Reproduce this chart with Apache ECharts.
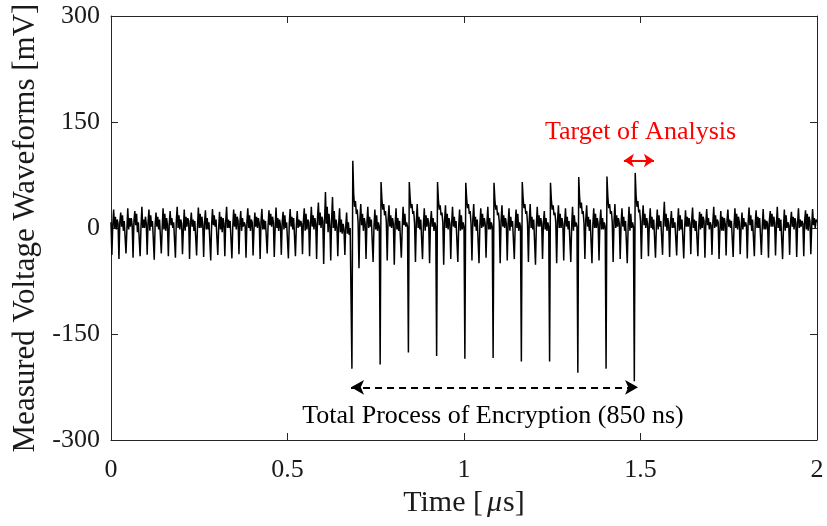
<!DOCTYPE html>
<html>
<head>
<meta charset="utf-8">
<script src="https://cdn.jsdelivr.net/npm/echarts@6/dist/echarts.min.js"></script>
<style>
html,body{margin:0;padding:0;background:#fff;}
#chart{width:827px;height:526px;}
</style>
</head>
<body>
<div id="chart"></div>
<script>
// ---- data (time step 0.0025 µs, voltage in mV) ----
const sampleStepUs = 0.0025;
const xTicks = [0, 0.5, 1, 1.5, 2];
const yTicks = [-300, -150, 0, 150, 300];

// idle before encryption (t = 0 .. 0.5575 µs)
const idleBefore = [
  8,-38,4,26,0,16,-2,12, 6,-44,8,22,2,18,-4,10, 12,-36,-2,28,-2,14,2,14, 4,-42,10,24,4,20,-6,8,
  10,-40,2,30,0,12,0,16, 6,-38,8,26,-4,18,2,10, 8,-45,4,22,2,16,-2,12, 12,-36,0,28,-2,20,-4,14,
  4,-40,6,24,4,14,0,8, 10,-42,10,30,0,18,-2,12, 6,-37,-2,26,-4,16,2,14, 10,-44,6,22,2,12,-4,10,
  8,-39,2,29,0,20,0,16, 4,-41,8,25,-2,14,-2,8, 10,-46,4,27,4,18,2,12, 12,-38,0,23,-2,16,-6,14,
  6,-40,10,30,0,12,0,10, 8,-43,2,26,2,20,-2,16, 10,-37,6,24,-4,14,2,8, 4,-42,8,28,0,18,-4,12,
  8,-39,-2,22,2,16,0,14, 6,-44,10,27,-2,12,-2,10, 10,-36,4,25,4,20,2,16, 8,-41,0,29,0,14,-4,12,
  4,-38,8,23,-2,18,0,8, 10,-43,6,27,2,16,-2,14, 12,-40,2,24,0,12,2,10, 6,-37,10,28,-4,20,-2,12
];
// activity just before encryption (t = 0.56 .. 0.6775 µs)
const prelude = [
  8,-40,4,30,2,18,-2,14, 6,-44,14,36,4,22,0,16, 10,-51,8,51,6,30,-6,20,
  4,-46,12,44,0,24,-4,12, 2,-40,6,28,-6,12,-8,6, -2,-38,2,22,-8,8,-10,0
];
// encryption (t = 0.68 .. 1.4975 µs), one large spike every 80 ns
const encryption = [
  2,-199,95,48,30,38,20,26, 8,-57,10,34,4,20,-4,14, 6,-44,8,30,0,16,2,12, 10,-48,2,26,-2,18,-4,8,
  2,-193,65,40,26,34,18,24, 8,-46,12,32,2,18,0,14, 6,-52,6,28,-2,14,-4,10, 10,-42,0,30,4,20,2,8,
  2,-176,65,42,28,34,20,24, 6,-48,10,34,0,16,-2,12, 12,-44,4,28,-4,18,2,14, 6,-50,8,24,2,14,-4,8,
  2,-181,65,40,26,32,18,22, 8,-52,10,32,0,20,-2,14, 6,-44,6,30,2,16,0,10, 10,-48,2,26,-4,18,-2,8,
  2,-185,64,42,28,34,20,24, 6,-46,12,34,2,16,-4,12, 10,-50,4,28,0,20,2,14, 6,-42,8,30,-2,14,-2,8,
  2,-184,64,40,26,32,18,22, 8,-50,10,32,2,18,0,14, 6,-46,6,28,-4,16,2,10, 10,-44,2,26,0,20,-4,8,
  2,-189,65,42,28,34,20,24, 6,-48,12,34,0,16,-2,12, 12,-52,4,30,2,18,2,14, 6,-44,8,24,-2,14,-4,8,
  2,-189,64,40,26,32,18,22, 8,-50,10,32,0,20,0,14, 6,-46,6,28,2,16,-2,10, 10,-48,2,30,-4,18,2,8,
  2,-205,72,44,28,36,20,24, 6,-44,12,32,2,16,-4,12, 10,-50,4,28,0,20,0,14, 6,-46,8,26,-2,14,-2,8,
  2,-199,73,44,28,34,20,24, 8,-48,10,34,0,18,2,14, 6,-44,6,28,2,16,-4,10, 10,-50,2,30,-4,20,0,8,
  2,-217,78,46,30,38,22,26
];
// idle after encryption (t = 1.5 .. 2.0 µs)
const idleAfter = [
  10,-44,10,32,4,20,0,14, 6,-40,6,28,0,16,-2,12, 10,-42,2,26,-2,18,2,10, 8,-38,12,37,2,20,-4,14,
  4,-41,8,24,0,14,0,8, 10,-39,4,28,-4,18,-2,12, 12,-43,0,25,2,16,2,14, 6,-37,10,29,0,12,-4,10,
  8,-40,2,23,-2,20,0,16, 10,-42,6,27,4,14,-2,8, 4,-38,8,30,0,18,2,12, 8,-44,-2,24,-4,16,-4,14,
  6,-39,10,26,2,12,0,10, 10,-41,4,28,0,20,-2,16, 8,-37,0,22,-2,14,2,8, 4,-43,8,29,4,18,-4,12,
  10,-40,6,25,0,16,0,14, 12,-38,2,27,-2,12,-2,10, 6,-42,10,24,2,20,2,16, 8,-39,4,30,0,14,-4,12,
  10,-44,0,26,-4,18,0,8, 4,-38,8,23,2,16,-2,14, 8,-41,6,28,0,12,2,10, 6,-40,10,25,-2,20,-4,16,
  10,-37,2,27,4,14,0,12,
  8
];

// annotations (data coordinates)
const encArrow = [[0.680, -225.5], [1.493, -225.5]];
const encLabel = {text: 'Total Process of Encryption (850 ns)', at: [1.082, -266]};
const targetArrow = [[1.453, 95.5], [1.538, 95.5]];
const targetLabel = {text: 'Target of Analysis', at: [1.50, 136]};

// ---- build ----
const voltage = idleBefore.concat(prelude, encryption, idleAfter);
const seriesData = voltage.map((v, i) => [+(i * sampleStepUs).toFixed(4), v]);

const FONT = "'Liberation Serif','Times New Roman',serif";
const AX = '#262626';
const TXT = '#1a1a1a';

const chart = echarts.init(document.getElementById('chart'), null, {renderer: 'canvas'});

function axisLine() { return {show: true, onZero: false, lineStyle: {color: AX, width: 1}}; }
function ticks() { return {show: true, inside: true, length: 7, lineStyle: {color: AX, width: 1}}; }

const option = {
  animation: false,
  backgroundColor: '#fff',
  grid: {left: 111, right: 10, top: 16, bottom: 86},
  xAxis: [{
    type: 'value', min: 0, max: 2, interval: 0.5, position: 'bottom',
    axisLine: axisLine(), axisTick: ticks(),
    splitLine: {show: false},
    axisLabel: {
      margin: 17, fontFamily: FONT, fontSize: 26, color: TXT,
      formatter: v => (xTicks.indexOf(v) >= 0 ? String(v) : '')
    },
    name: '{a|Time [}{i|μ}{a|s]}',
    nameLocation: 'middle', nameGap: 44,
    nameTextStyle: {
      rich: {
        a: {fontFamily: FONT, fontSize: 30, color: TXT},
        i: {fontFamily: FONT, fontSize: 30, fontStyle: 'italic', color: TXT, padding: [0, 1, 0, 4]}
      }
    }
  }, {
    type: 'value', min: 0, max: 2, interval: 0.5, position: 'top',
    axisLine: axisLine(), axisTick: ticks(),
    axisLabel: {show: false}, splitLine: {show: false}
  }],
  yAxis: [{
    type: 'value', min: -300, max: 300, interval: 150, position: 'left',
    axisLine: axisLine(), axisTick: ticks(),
    splitLine: {show: false},
    axisLabel: {
      margin: 11, fontFamily: FONT, fontSize: 26, color: TXT,
      formatter: v => (yTicks.indexOf(v) >= 0 ? String(v) : '')
    },
    name: 'Measured Voltage Waveforms [mV]',
    nameLocation: 'middle', nameGap: 68, nameRotate: 90,
    nameTextStyle: {fontFamily: FONT, fontSize: 31, color: TXT}
  }, {
    type: 'value', min: -300, max: 300, interval: 150, position: 'right',
    axisLine: axisLine(), axisTick: ticks(),
    axisLabel: {show: false}, splitLine: {show: false}
  }],
  series: [{
    type: 'line',
    xAxisIndex: 0, yAxisIndex: 0,
    data: seriesData,
    showSymbol: false,
    symbol: 'none',
    lineStyle: {color: '#000', width: 1.5},
    silent: true,
    markLine: {
      silent: true,
      animation: false,
      symbol: ['arrow', 'arrow'],
      symbolSize: [11, 13],
      label: {show: false},
      emphasis: {disabled: true},
      data: [
        [
          {coord: encArrow[0], lineStyle: {color: '#000', type: [7, 5], width: 2}},
          {coord: encArrow[1]}
        ],
        [
          {coord: targetArrow[0], lineStyle: {color: '#ff0000', type: 'solid', width: 2}, symbolSize: [10, 10]},
          {coord: targetArrow[1], symbolSize: [10, 10]}
        ]
      ]
    }
  }]
};
chart.setOption(option);

const p1 = chart.convertToPixel({xAxisIndex: 0, yAxisIndex: 0}, encLabel.at);
const p2 = chart.convertToPixel({xAxisIndex: 0, yAxisIndex: 0}, targetLabel.at);
chart.setOption({
  graphic: [
    {type: 'text', x: p1[0], y: p1[1], style: {text: encLabel.text, font: "26px " + FONT, fill: '#000', align: 'center', verticalAlign: 'middle'}},
    {type: 'text', x: p2[0], y: p2[1], style: {text: targetLabel.text, font: "26px " + FONT, fill: '#ff0000', align: 'center', verticalAlign: 'middle'}}
  ]
});
</script>
</body>
</html>
